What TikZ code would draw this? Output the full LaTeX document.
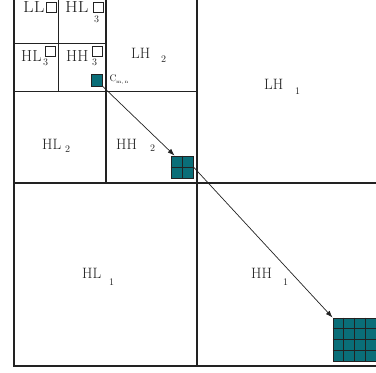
\documentclass[tikz,border=0pt]{standalone}
\usetikzlibrary{calc,arrows.meta}
\definecolor{tealq}{RGB}{10,110,120}
\definecolor{ink}{RGB}{34,34,34}
\begin{document}
\begin{tikzpicture}[x=1pt,y=1pt,
  lone/.style={line width=2.2pt, draw=ink},
  ltwo/.style={line width=1.4pt, draw=ink},
  lthree/.style={line width=1.2pt, draw=ink},
  lab/.style={anchor=base west, inner sep=0pt, text=ink, font=\fontsize{15}{16}\selectfont},
  labthree/.style={anchor=base west, inner sep=0pt, text=ink, font=\fontsize{16}{17}\selectfont},
  sublab/.style={anchor=base west, inner sep=0pt, text=ink, font=\fontsize{10}{11}\selectfont},
  tinylab/.style={anchor=base west, inner sep=0pt, text=ink, font=\fontsize{5}{6}\selectfont},
  clab/.style={anchor=base west, inner sep=0pt, text=ink, font=\fontsize{9.5}{10}\selectfont},
  wsq/.style={draw=ink, fill=white, line width=0.8pt, minimum size=10pt, inner sep=0pt},
  tsq/.style={draw=ink, fill=tealq, line width=0.9pt, inner sep=0pt},
  gl/.style={draw=ink, line width=0.9pt},
  arr/.style={draw=ink, line width=0.7pt, -{Latex[length=7pt,width=5pt]}}
]
\useasboundingbox (0,0) rectangle (376,373);
\clip (0,0) rectangle (376,373);
% level 1
\draw[lone] (14.3,7) rectangle (380.6,374.2);
\draw[lone] (197.3,7) -- (197.3,374.2);
\draw[lone] (14.3,190) -- (380.6,190);
% level 2
\draw[ltwo] (105.8,190) -- (105.8,374.2);
\draw[ltwo] (14.3,281.7) -- (197.3,281.7);
% level 3
\draw[lthree] (58.5,281.7) -- (58.5,374.2);
\draw[lthree] (14.3,329.5) -- (105.8,329.5);
% level 3 labels
\node[labthree] (ll) at (23,360.5) {\scalebox{1.15}[1]{LL}};
\node[labthree] (hlthreea) at (65,360.5) {\scalebox{1.15}[1]{HL}};
\node[sublab] (hlthreeas) at (94,350.5) {3};
\node[labthree] (hlthreeb) at (21,311) {HL};
\node[sublab] (hlthreebs) at (43,307) {3};
\node[labthree] (hhthree) at (66,311) {HH};
\node[sublab] (hhthrees) at (92,307) {3};
\node[wsq] (sa) at (51,366) {};
\node[wsq] (sb) at (98,366) {};
\node[wsq] (sc) at (50.5,322) {};
\node[wsq] (sd) at (97.5,322) {};
% level 2 labels
\node[lab] (lhtwo) at (131,314) {LH};
\node[sublab] (lhtwos) at (161,310) {2};
\node[lab] (hltwo) at (42,223) {HL};
\node[sublab] (hltwos) at (65,220) {2};
\node[lab] (hhtwo) at (116,223) {HH};
\node[sublab] (hhtwos) at (150,221) {2};
% level 1 labels
\node[lab] (lhone) at (264,283) {LH};
\node[sublab] (lhones) at (295,278) {1};
\node[lab] (hlone) at (82,94) {HL};
\node[sublab] (hlones) at (109,87) {1};
\node[lab] (hhone) at (251,94) {HH};
\node[sublab] (hhones) at (283,87) {1};
% coefficient squares
\node[tsq, minimum size=11.5pt] (cmn) at (96.8,292.5) {};
\node[clab] (cl) at (109.5,291) {C};
\node[tinylab] (cls) at (116,289) {m,\,n};
\node[tsq, minimum size=22pt] (gtwo) at (182,206) {};
\draw[gl] (gtwo.north) -- (gtwo.south);
\draw[gl] (gtwo.west) -- (gtwo.east);
\node[tsq, minimum size=43pt] (gfour) at (354.5,33.5) {};
\foreach \f in {0.25,0.5,0.75} {
  \draw[gl] ($(gfour.north west)!\f!(gfour.north east)$) -- ($(gfour.south west)!\f!(gfour.south east)$);
  \draw[gl] ($(gfour.north west)!\f!(gfour.south west)$) -- ($(gfour.north east)!\f!(gfour.south east)$);
}
% arrows
\draw[arr] (cmn.south east) -- ($(gtwo.north west)+(4,0)$);
\draw[arr] (gtwo.east) -- (gfour.north west);
\end{tikzpicture}
\end{document}
